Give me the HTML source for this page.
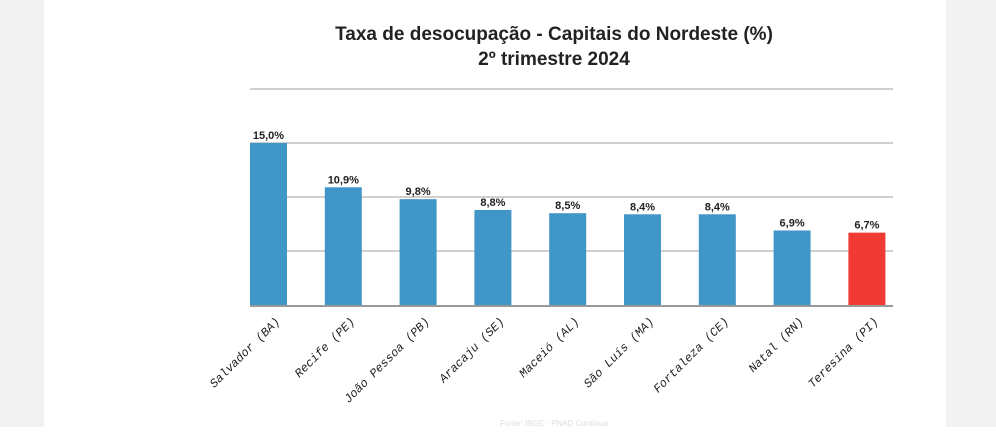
<!DOCTYPE html>
<html><head><meta charset="utf-8"><style>
body{margin:0;width:996px;height:427px;overflow:hidden;background:#fff;font-family:"Liberation Sans",sans-serif}
</style></head><body>
<svg width="996" height="427" xmlns="http://www.w3.org/2000/svg">
<rect x="0" y="0" width="44" height="427" fill="#f2f2f2"/>
<rect x="946" y="0" width="50" height="427" fill="#f2f2f2"/>
<text x="554" y="40" text-anchor="middle" font-size="19" font-weight="bold" fill="#222">Taxa de desocupação - Capitais do Nordeste (%)</text>
<text x="554" y="65" text-anchor="middle" font-size="19" font-weight="bold" fill="#222">2º trimestre 2024</text>
<g id="grid"></g><g id="bars"></g>
<text x="554" y="426" text-anchor="middle" font-size="8" fill="#ddd">Fonte: IBGE - PNAD Contínua</text>
</svg>
<script>
const categories=["Salvador (BA)","Recife (PE)","João Pessoa (PB)","Aracaju (SE)","Maceió (AL)","São Luís (MA)","Fortaleza (CE)","Natal (RN)","Teresina (PI)"];
const values=[15.0,10.9,9.8,8.8,8.5,8.4,8.4,6.9,6.7];
const valueLabels=["15,0%","10,9%","9,8%","8,8%","8,5%","8,4%","8,4%","6,9%","6,7%"];
const gridTicks=[5,10,15,20];
const NS="http://www.w3.org/2000/svg";
const y0=305,pxPer=10.8,x0=250,pitch=74.8,bw=37,xEnd=893;
const y=v=>y0-v*pxPer, x=i=>x0+i*pitch;
const g=document.getElementById('grid'),b=document.getElementById('bars');
function mk(t,a,p){const e=document.createElementNS(NS,t);for(const k in a)e.setAttribute(k,a[k]);p.appendChild(e);return e;}
gridTicks.forEach(t=>{const l=mk('line',{x1:x0,x2:xEnd,y1:y(t),y2:y(t),stroke:'#d0d0d0','stroke-width':2},g);

});
const base=mk('line',{x1:x0,x2:xEnd,y1:y0+1,y2:y0+1,stroke:'#999','stroke-width':2},g);


values.forEach((v,i)=>{
const r=mk('rect',{x:x(i),y:y(v),width:bw,height:y0-y(v),fill:i==values.length-1?'#f23a35':'#4196c8'},b);


const t=mk('text',{x:x(i)+bw/2,y:y(v)-4,'text-anchor':'middle','font-size':11,'font-weight':'bold',fill:'#222'},b);
t.textContent=valueLabels[i];


const cx=x(i)+bw/2+12,cy=y0+17;
const c=mk('text',{x:cx,y:cy,'text-anchor':'end','font-size':12,'font-style':'italic','font-family':'Liberation Mono, monospace',fill:'#222',transform:`rotate(-45 ${cx} ${cy})`},b);
c.textContent=categories[i];


});
</script>
</body></html>
